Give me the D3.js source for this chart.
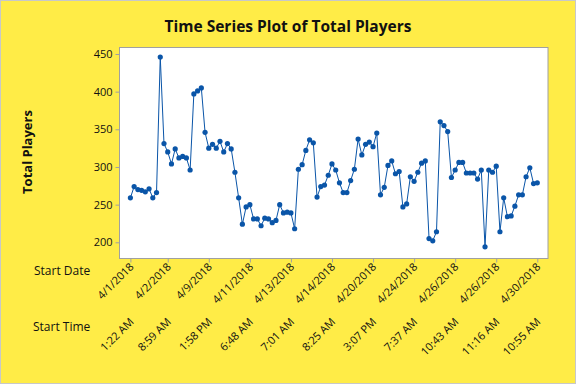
<!DOCTYPE html>
<html>
<head>
<meta charset="utf-8">
<script src="https://cdn.jsdelivr.net/npm/d3@7"></script>
<style>
  body { margin: 0; background: #fff; }
  svg { display: block; }
  text { font-family: "Open Sans", sans-serif; fill: #111; }
</style>
</head>
<body>
<div id="chart"></div>
<script>
// Total players, one value per session (index 1..110)
const players = [
  259, 274, 270, 269, 267, 271, 259, 266, 446, 331,
  320, 304, 324, 312, 314, 312, 296, 397, 401, 405,
  346, 325, 330, 325, 334, 320, 331, 324, 293, 259,
  224, 247, 250, 231, 231, 222, 232, 231, 226, 229,
  250, 239, 240, 239, 218, 297, 303, 322, 336, 332,
  260, 274, 276, 289, 304, 296, 279, 266, 266, 282,
  297, 337, 316, 330, 333, 327, 345, 263, 273, 302,
  308, 291, 294, 247, 251, 287, 281, 293, 305, 308,
  205, 202, 214, 360, 355, 347, 286, 296, 306, 306,
  292, 292, 292, 284, 296, 194, 296, 293, 301, 214,
  259, 234, 235, 248, 263, 263, 287, 299, 278, 279
];

const tickIndex = [1, 11, 22, 33, 44, 55, 66, 77, 88, 99, 110];
const dateLabels = ["4/1/2018", "4/2/2018", "4/9/2018", "4/11/2018", "4/13/2018", "4/14/2018",
                    "4/20/2018", "4/24/2018", "4/26/2018", "4/26/2018", "4/30/2018"];
const timeLabels = ["1:22 AM", "8:59 AM", "1:58 PM", "6:48 AM", "7:01 AM", "8:25 AM",
                    "3:07 PM", "7:37 AM", "10:43 AM", "11:16 AM", "10:55 AM"];
const yTicks = [200, 250, 300, 350, 400, 450];

const width = 576;
const height = 384;
const plot = {left: 119.5, top: 47.5, right: 548, bottom: 258.5};

const data = players.map((v, i) => ({idx: i + 1, value: v}));

const x = d3.scaleLinear().domain([-1.92, 112.87]).range([plot.left, plot.right]);
const y = d3.scaleLinear().domain([178.5, 458.6]).range([plot.bottom, plot.top]);

const svg = d3.select("#chart")
    .append("svg")
    .attr("width", width)
    .attr("height", height);

// yellow background with thin border
svg.append("rect")
    .attr("x", 0.5).attr("y", 0.5)
    .attr("width", width - 1).attr("height", height - 1)
    .attr("fill", "#ffec47")
    .attr("stroke", "#c8c8c8");

svg.append("rect")
    .attr("x", plot.left).attr("y", plot.top)
    .attr("width", plot.right - plot.left).attr("height", plot.bottom - plot.top)
    .attr("fill", "#fff")
    .attr("stroke", "#a0a0a0");

svg.append("text")
    .attr("x", 288).attr("y", 32)
    .attr("text-anchor", "middle")
    .attr("font-size", 15.5).attr("font-weight", "bold")
    .text("Time Series Plot of Total Players");

// y axis
const yAxis = svg.append("g")
    .attr("transform", `translate(${plot.left},0)`)
    .call(d3.axisLeft(y).tickValues(yTicks).tickSize(4).tickPadding(3));
yAxis.select(".domain").remove();
yAxis.selectAll("line").attr("stroke", "#a0a0a0");
yAxis.selectAll("text").attr("font-size", 11).attr("font-family", "Open Sans").attr("fill", "#111");

svg.append("text")
    .attr("transform", "translate(32,152) rotate(-90)")
    .attr("text-anchor", "middle")
    .attr("font-size", 13).attr("font-weight", "bold")
    .text("Total Players");

// x axis ticks
const xAxis = svg.append("g")
    .attr("transform", `translate(0,${plot.bottom})`)
    .call(d3.axisBottom(x).tickValues(tickIndex).tickSize(4).tickFormat(""));
xAxis.select(".domain").remove();
xAxis.selectAll("line").attr("stroke", "#a0a0a0");

svg.append("text").attr("x", 34).attr("y", 275).attr("font-size", 12).text("Start Date");
svg.append("text").attr("x", 33).attr("y", 331).attr("font-size", 12).text("Start Time");

svg.append("g")
    .selectAll("text")
    .data(tickIndex)
    .join("text")
    .attr("transform", d => `translate(${x(d) + 4},${plot.bottom + 9}) rotate(-45)`)
    .attr("text-anchor", "end")
    .attr("font-size", 11)
    .text((d, i) => dateLabels[i]);

svg.append("g")
    .selectAll("text")
    .data(tickIndex)
    .join("text")
    .attr("transform", d => `translate(${x(d) + 4},${plot.bottom + 64}) rotate(-45)`)
    .attr("text-anchor", "end")
    .attr("font-size", 11)
    .text((d, i) => timeLabels[i]);

// series
svg.append("path")
    .datum(data)
    .attr("fill", "none")
    .attr("stroke", "#0a55a8")
    .attr("stroke-width", 1)
    .attr("d", d3.line().x(d => x(d.idx)).y(d => y(d.value)));

svg.append("g")
    .attr("fill", "#0a55a8")
    .selectAll("circle")
    .data(data)
    .join("circle")
    .attr("cx", d => x(d.idx))
    .attr("cy", d => y(d.value))
    .attr("r", 2.6);
</script>
</body>
</html>
